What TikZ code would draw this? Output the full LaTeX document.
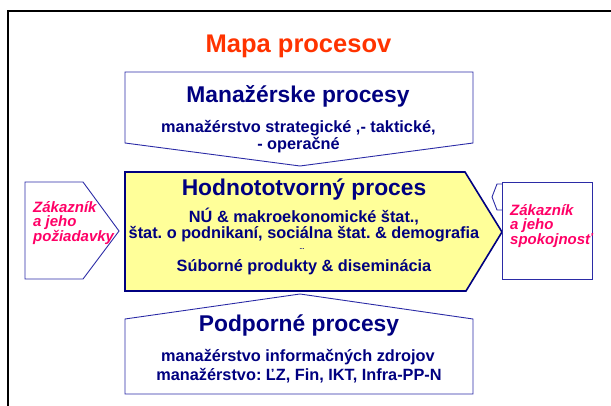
\documentclass[tikz,border=0pt]{standalone}
\usepackage{fontspec}
\setmainfont{Liberation Sans}
\usetikzlibrary{positioning}
\frenchspacing

\definecolor{navytext}{HTML}{000080}
\definecolor{boxline}{HTML}{2B2BA6}
\definecolor{titlered}{HTML}{FF3300}
\definecolor{custpink}{HTML}{FF0066}
\definecolor{valuefill}{HTML}{FFFF99}

\tikzset{
  frame/.style={line width=2pt, black},
  procbox/.style={draw=boxline, line width=0.9pt, line join=miter},
  valuebox/.style={draw=navytext, fill=valuefill, line width=1.6pt, line join=miter},
  txt/.style={inner sep=0pt, anchor=base, text=navytext},
  title/.style={txt, text=titlered, font=\fontsize{25.5}{28}\selectfont\bfseries},
  head/.style={txt, font=\fontsize{22.8}{26}\selectfont\bfseries},
  body/.style={txt, font=\fontsize{16.3}{18}\selectfont\bfseries},
  cust/.style={txt, anchor=base west, text=custpink, font=\fontsize{15}{15}\selectfont\bfseries\itshape},
}

\begin{document}
\begin{tikzpicture}[x=1pt, y=-1pt]
  \useasboundingbox (0,0) rectangle (611,406);
  \draw[frame] (7.5,406) -- (7.5,11.5) -- (611,11.5);

  \node[title] (mapa) at (298.5,53) {Mapa procesov};

  % manazerske procesy
  \draw[procbox] (125,72) -- (473,72) -- (473,143) -- (300,166) -- (125,143) -- cycle;
  \node[head] (manhead) at (298,103) {Manažérske procesy};
  \node[body] (man1) at (298.5,133) {manažérstvo strategické ,- taktické,};
  \node[body] (man2) at (298.5,150) {- operačné};

  % hodnototvorny proces
  \draw[valuebox] (125,172) -- (465,172) -- (502,232) -- (466,291) -- (125,291) -- cycle;
  \node[head] (valhead) at (304,196) {Hodnototvorný proces};
  \node[body] (val1) at (304,223) {NÚ \& makroekonomické štat.,};
  \node[body] (val2) at (304,238.5) {štat. o podnikaní, sociálna štat. \& demografia};
  \node[txt, font=\fontsize{6}{6}\selectfont\bfseries] (valdots) at (302,250) {...};
  \node[body] (val3) at (304,272) {Súborné produkty \& diseminácia};

  % zakaznik vlavo
  \draw[procbox] (25,182) -- (83,182) -- (119,231) -- (83,279) -- (25,279) -- cycle;
  \node[cust] (in1) at (33,212.7) {Zákazník};
  \node[cust] (in2) at (33,226.9) {a jeho};
  \node[cust] (in3) at (33,241.1) {požiadavky};

  % zakaznik vpravo
  \draw[procbox] (502,184) -- (497,184) -- (492,197) -- (497,210) -- (502,210);
  \draw[procbox] (502,182) rectangle (592,279);
  \node[cust] (out1) at (510,215.7) {Zákazník};
  \node[cust] (out2) at (510,229.9) {a jeho};
  \node[cust] (out3) at (510,244.1) {spokojnosť};

  % podporne procesy
  \draw[procbox] (125,394) -- (125,319) -- (300,294) -- (473,319) -- (473,394) -- cycle;
  \node[head] (podhead) at (299,332) {Podporné procesy};
  \node[body] (pod1) at (298,361) {manažérstvo informačných zdrojov};
  \node[body] (pod2) at (299,380) {manažérstvo: ĽZ, Fin, IKT, Infra-PP-N};
\end{tikzpicture}
\end{document}
